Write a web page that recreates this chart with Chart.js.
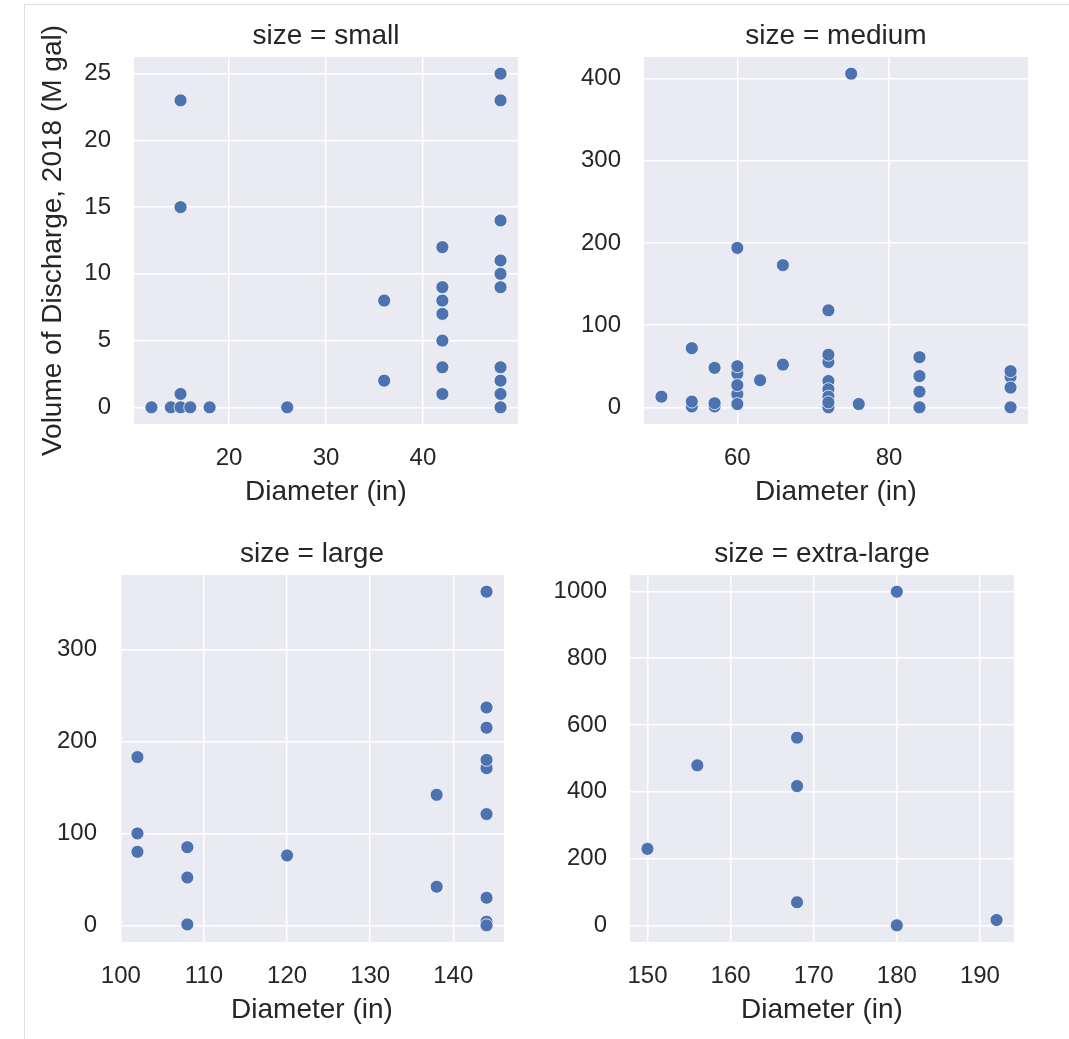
<!DOCTYPE html>
<html>
<head>
<meta charset="utf-8">
<script src="https://cdn.jsdelivr.net/npm/chart.js@4"></script>
<style>
  body { margin: 0; background: #fff; width: 1069px; height: 1039px; position: relative; overflow: hidden; }
  .frame { position: absolute; left: 24px; top: 4px; right: -5px; bottom: -5px; border-left: 1px solid #dedede; border-top: 1px solid #dedede; }
  .panel { position: absolute; }
</style>
</head>
<body>
<div class="frame"></div>
<div class="panel" style="left:24px;top:0px"><canvas id="small" width="504" height="509"></canvas></div>
<div class="panel" style="left:534px;top:0px"><canvas id="medium" width="504" height="509"></canvas></div>
<div class="panel" style="left:10px;top:518px"><canvas id="large" width="504" height="509"></canvas></div>
<div class="panel" style="left:520px;top:518px"><canvas id="xlarge" width="504" height="509"></canvas></div>
<script>
// datos: diámetro (in) y volumen de descarga 2018 (M gal)
const smallDiam = [12, 14, 15, 15, 15, 15, 16, 18, 26, 36, 36,
                   42, 42, 42, 42, 42, 42, 42,
                   48, 48, 48, 48, 48, 48, 48, 48, 48, 48];
const smallVol  = [0, 0, 23, 15, 1, 0, 0, 0, 0, 8, 2,
                   12, 9, 8, 7, 5, 3, 1,
                   25, 23, 14, 11, 10, 9, 3, 2, 1, 0];

const mediumDiam = [50, 54, 54, 54, 57, 57, 57,
                    60, 60, 60, 60, 60, 60, 63, 66, 66,
                    72, 72, 72, 72, 72, 72, 72, 72, 75, 76,
                    84, 84, 84, 84, 96, 96, 96, 96];
const mediumVol  = [13, 72, 1, 7, 48, 1, 5,
                    194, 41, 50, 16, 27, 4, 33, 173, 52,
                    118, 55, 64, 32, 22, 13, 0, 6, 406, 4,
                    61, 38, 19, 0, 37, 44, 24, 0];

const largeDiam = [102, 102, 102, 108, 108, 108, 120, 138, 138,
                   144, 144, 144, 144, 144, 144, 144, 144, 144];
const largeVol  = [183, 100, 80, 85, 52, 1, 76, 142, 42,
                   363, 237, 215, 171, 180, 121, 30, 4, 0];

const xlDiam = [150, 156, 168, 168, 168, 180, 180, 192];
const xlVol  = [229, 479, 562, 417, 69, 999, 0, 16];

// marcas de los ejes
const smallXTicks = [20, 30, 40];
const smallYTicks = [0, 5, 10, 15, 20, 25];
const mediumXTicks = [60, 80];
const mediumYTicks = [0, 100, 200, 300, 400];
const largeXTicks = [100, 110, 120, 130, 140];
const largeYTicks = [0, 100, 200, 300];
const xlXTicks = [150, 160, 170, 180, 190];
const xlYTicks = [0, 200, 400, 600, 800, 1000];

const FONT = "'Liberation Sans', Arial, Helvetica, sans-serif";
const BLUE = '#4C72B0';

// fondo gris y título de cada panel, alineados al área del gráfico
const facetPlugin = {
    id: 'facet',
    beforeDraw(chart) {
        const a = chart.chartArea;
        const c = chart.ctx;
        c.save();
        c.fillStyle = '#EAEAF2';
        c.fillRect(a.left, a.top, a.right - a.left, a.bottom - a.top);
        c.restore();
    },
    afterDraw(chart) {
        const a = chart.chartArea;
        const c = chart.ctx;
        c.save();
        c.font = '28px ' + FONT;
        c.fillStyle = '#262626';
        c.textAlign = 'center';
        c.textBaseline = 'alphabetic';
        c.fillText(chart.options.plugins.facet.text, (a.left + a.right) / 2, a.top - 13);
        c.restore();
    }
};

const pairs = (xs, ys) => xs.map((x, i) => ({x: x, y: ys[i]}));

const makePanel = (id, title, xs, ys, xRange, yRange, xTicks, yTicks, showYTitle) => {
    new Chart(document.getElementById(id), {
        type: 'scatter',
        data: {
            datasets: [{
                data: pairs(xs, ys),
                backgroundColor: BLUE,
                borderColor: '#ffffff',
                borderWidth: 0.75,
                pointRadius: 6.5,
                pointHoverRadius: 6.5
            }]
        },
        options: {
            responsive: false,
            animation: false,
            layout: { padding: { top: 57, right: 10, left: 0, bottom: 0 } },
            plugins: {
                legend: { display: false },
                tooltip: { enabled: false },
                facet: { text: title }
            },
            scales: {
                x: {
                    type: 'linear',
                    min: xRange[0],
                    max: xRange[1],
                    afterBuildTicks: s => { s.ticks = xTicks.map(v => ({value: v})); },
                    afterFit: s => { s.height = 85; },
                    grid: { color: '#ffffff', lineWidth: 1.5, drawTicks: false },
                    border: { display: false },
                    ticks: {
                        padding: 20,
                        color: '#262626',
                        font: { family: FONT, size: 24 },
                        maxRotation: 0,
                        callback: v => String(v)
                    },
                    title: {
                        display: true,
                        text: 'Diameter (in)',
                        color: '#262626',
                        font: { family: FONT, size: 28 },
                        padding: { top: 0, bottom: 0 }
                    }
                },
                y: {
                    type: 'linear',
                    min: yRange[0],
                    max: yRange[1],
                    afterBuildTicks: s => { s.ticks = yTicks.map(v => ({value: v})); },
                    afterFit: s => { s.width = 110; },
                    grid: { color: '#ffffff', lineWidth: 1.5, drawTicks: false },
                    border: { display: false },
                    ticks: {
                        padding: 23,
                        color: '#262626',
                        font: { family: FONT, size: 24 },
                        callback: v => String(v)
                    },
                    title: {
                        display: showYTitle,
                        text: 'Volume of Discharge, 2018 (M gal)',
                        color: '#262626',
                        font: { family: FONT, size: 28 },
                        padding: { top: 12, bottom: 0 }
                    }
                }
            }
        },
        plugins: [facetPlugin]
    });
};

makePanel('small', 'size = small', smallDiam, smallVol, [10.2, 49.8], [-1.25, 26.25], smallXTicks, smallYTicks, true);
makePanel('medium', 'size = medium', mediumDiam, mediumVol, [47.7, 98.3], [-20.3, 426.3], mediumXTicks, mediumYTicks, false);
makePanel('large', 'size = large', largeDiam, largeVol, [99.9, 146.1], [-18.15, 381.15], largeXTicks, largeYTicks, false);
makePanel('xlarge', 'size = extra-large', xlDiam, xlVol, [147.9, 194.1], [-49.95, 1048.95], xlXTicks, xlYTicks, false);
</script>
</body>
</html>
